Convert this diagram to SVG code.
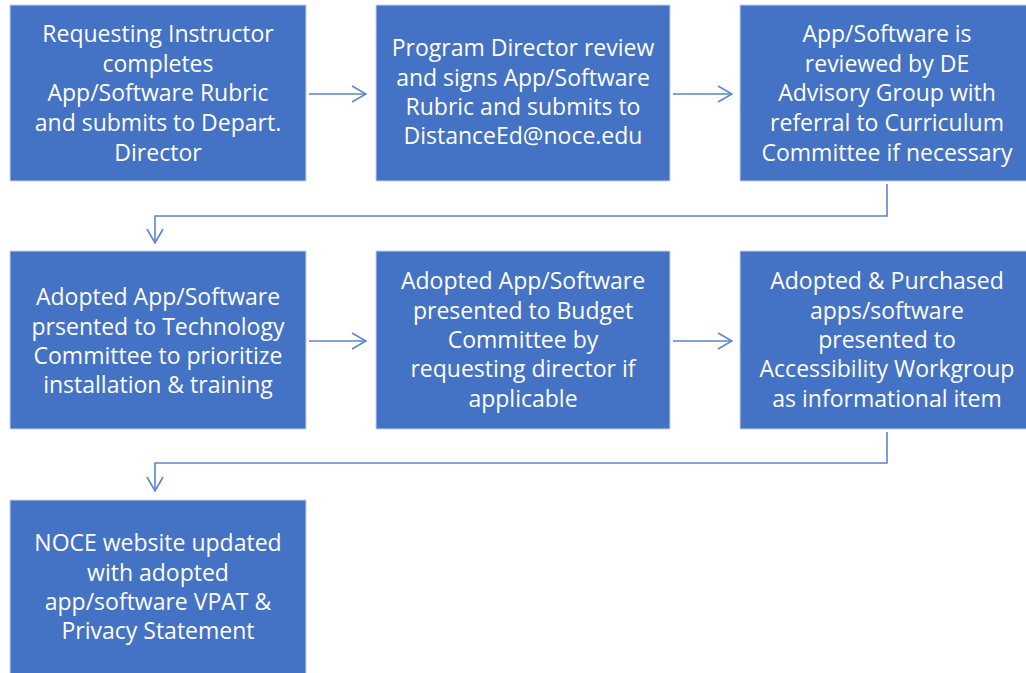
<svg xmlns="http://www.w3.org/2000/svg" width="1026" height="673" viewBox="0 0 1026 673">
<defs>
<style>
.box{fill:#4472C4;stroke:#C5D3EC;stroke-width:1}
.t{font-family:"Open Sans","Noto Sans",sans-serif;font-size:23px;fill:#FFFFFF;text-anchor:middle;dominant-baseline:central}
.c{fill:none;stroke:#5B84CC;stroke-width:1.6}
</style>
<marker id="ah" viewBox="0 0 16 18" refX="15" refY="9" markerWidth="16" markerHeight="18" markerUnits="userSpaceOnUse" orient="auto">
<path d="M1,1 L15,9 L1,17" fill="none" stroke="#5B84CC" stroke-width="1.6"/>
</marker>
</defs>
<rect width="1026" height="673" fill="#FFFFFF"/>
<g id="connectors">
<line class="c" x1="309" y1="94" x2="366" y2="94" marker-end="url(#ah)"/>
<line class="c" x1="673" y1="94" x2="732" y2="94" marker-end="url(#ah)"/>
<path class="c" d="M887,184 V216 H155 V243" marker-end="url(#ah)"/>
<line class="c" x1="309" y1="341" x2="366" y2="341" marker-end="url(#ah)"/>
<line class="c" x1="673" y1="341" x2="732" y2="341" marker-end="url(#ah)"/>
<path class="c" d="M887,432 V463 H155 V491" marker-end="url(#ah)"/>
</g>
<g id="n1"><rect class="box" x="10" y="5" width="296" height="176"/>
<text class="t"><tspan x="158" y="33">Requesting Instructor</tspan><tspan x="158" y="63">completes</tspan><tspan x="158" y="92">App/Software Rubric</tspan><tspan x="158" y="122">and submits to Depart.</tspan><tspan x="158" y="152">Director</tspan></text></g>
<g id="n2"><rect class="box" x="376" y="5" width="294" height="176"/>
<text class="t"><tspan x="523" y="47">Program Director review</tspan><tspan x="523" y="77">and signs App/Software</tspan><tspan x="523" y="106">Rubric and submits to</tspan><tspan x="523" y="135">DistanceEd@noce.edu</tspan></text></g>
<g id="n3"><rect class="box" x="740" y="5" width="296" height="176"/>
<text class="t"><tspan x="887" y="33">App/Software is</tspan><tspan x="887" y="63">reviewed by DE</tspan><tspan x="887" y="92">Advisory Group with</tspan><tspan x="887" y="122">referral to Curriculum</tspan><tspan x="887" y="152">Committee if necessary</tspan></text></g>
<g id="n4"><rect class="box" x="10" y="251" width="296" height="178"/>
<text class="t"><tspan x="158" y="296">Adopted App/Software</tspan><tspan x="158" y="326">prsented to Technology</tspan><tspan x="158" y="355">Committee to prioritize</tspan><tspan x="158" y="384">installation &amp; training</tspan></text></g>
<g id="n5"><rect class="box" x="376" y="251" width="294" height="178"/>
<text class="t"><tspan x="523" y="280">Adopted App/Software</tspan><tspan x="523" y="310">presented to Budget</tspan><tspan x="523" y="339">Committee by</tspan><tspan x="523" y="368">requesting director if</tspan><tspan x="523" y="398">applicable</tspan></text></g>
<g id="n6"><rect class="box" x="740" y="251" width="296" height="178"/>
<text class="t"><tspan x="887" y="280">Adopted &amp; Purchased</tspan><tspan x="887" y="310">apps/software</tspan><tspan x="887" y="339">presented to</tspan><tspan x="887" y="368">Accessibility Workgroup</tspan><tspan x="887" y="398">as informational item</tspan></text></g>
<g id="n7"><rect class="box" x="10" y="500" width="296" height="180"/>
<text class="t"><tspan x="158" y="542">NOCE website updated</tspan><tspan x="158" y="572">with adopted</tspan><tspan x="158" y="601">app/software VPAT &amp;</tspan><tspan x="158" y="630">Privacy Statement</tspan></text></g>
</svg>
